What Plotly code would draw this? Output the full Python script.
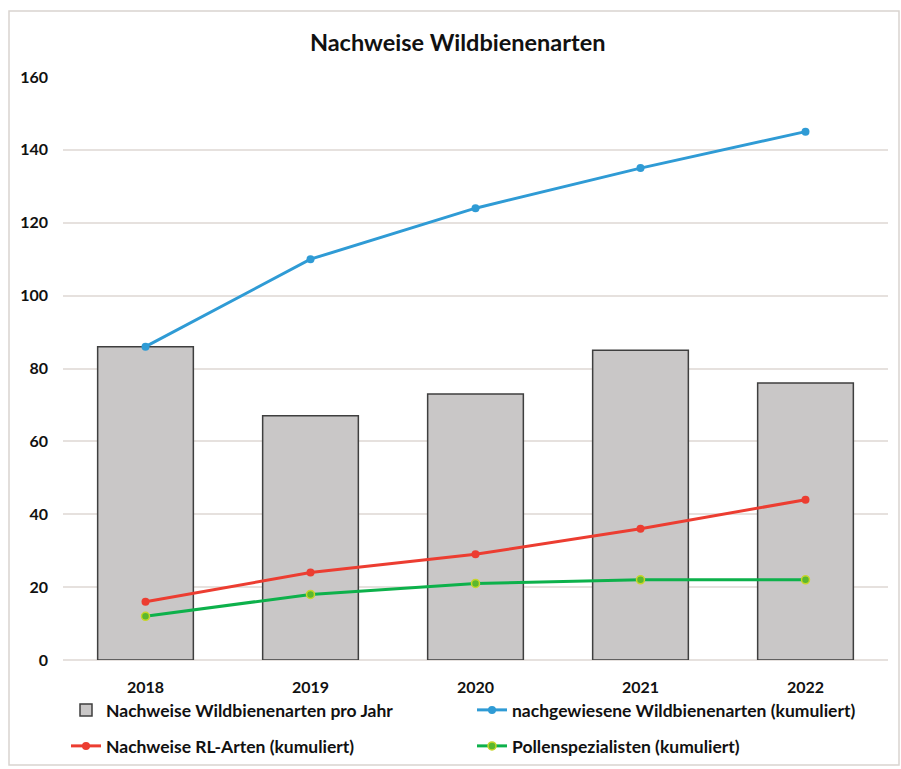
import plotly.graph_objects as go

years = ["2018", "2019", "2020", "2021", "2022"]
bars_pro_jahr = [86, 67, 73, 85, 76]
kumuliert = [86, 110, 124, 135, 145]
rl_arten = [16, 24, 29, 36, 44]
pollen = [12, 18, 21, 22, 22]

W, H = 901, 769
L, R, T, B = 63, 13, 77, 109
FONT = "Lato"

fig = go.Figure()
fig.add_trace(go.Bar(
    x=years, y=bars_pro_jahr, name="Nachweise Wildbienenarten pro Jahr",
    marker=dict(color="#c9c7c7", line=dict(color="#3f3f3f", width=1.5)),
    width=0.58, legend="legend", showlegend=True))
fig.add_trace(go.Scatter(
    x=years, y=kumuliert, name="nachgewiesene Wildbienenarten (kumuliert)",
    mode="lines+markers", line=dict(color="#2f9bd5", width=3),
    marker=dict(color="#2f9bd5", size=8), legend="legend2", showlegend=True))
fig.add_trace(go.Scatter(
    x=years, y=rl_arten, name="Nachweise RL-Arten (kumuliert)",
    mode="lines+markers", line=dict(color="#ec3d31", width=3),
    marker=dict(color="#ec3d31", size=8), legend="legend3", showlegend=True))
fig.add_trace(go.Scatter(
    x=years, y=pollen, name="Pollenspezialisten (kumuliert)",
    mode="lines+markers", line=dict(color="#0db14b", width=3),
    marker=dict(color="#5cb82e", size=8, line=dict(color="#c8d62a", width=1.5)),
    legend="legend4", showlegend=True))

pw = W - L - R
ph = H - T - B
def px2x(px):
    return (px - L) / pw
def py2y(py):
    return (H - B - py) / ph

leg_common = dict(font=dict(family=FONT, size=17.5, color="#111111", weight="bold"),
                  bgcolor="rgba(0,0,0,0)", xanchor="left", yanchor="middle",
                  xref="container", yref="container",
                  itemwidth=30, tracegroupgap=0)

fig.update_layout(
    width=W, height=H,
    showlegend=True,
    margin=dict(l=L, r=R, t=T, b=B, autoexpand=False),
    paper_bgcolor="white", plot_bgcolor="white",
    title=dict(text="<b>Nachweise Wildbienenarten</b>", x=0.508, xanchor="center",
               y=1 - 43 / H, yanchor="middle",
               font=dict(family=FONT, size=23.5, color="#111111")),
    bargap=0.42,
    xaxis=dict(showgrid=False, showline=False, ticks="",
               tickfont=dict(family=FONT, size=16, color="#111111", weight="bold"),
               ticklabelstandoff=16),
    yaxis=dict(range=[0, 160], dtick=20, showgrid=True, gridcolor="#e6e1de", gridwidth=1.5,
               zeroline=True, zerolinecolor="#e6e1de", zerolinewidth=1.5, showline=False,
               tickfont=dict(family=FONT, size=16, color="#111111", weight="bold"),
               ticklabelstandoff=14),
    legend=dict(x=66 / W, y=1 - 710 / H, **leg_common),
    legend2=dict(x=472 / W, y=1 - 710 / H, **leg_common),
    legend3=dict(x=66 / W, y=1 - 746 / H, **leg_common),
    legend4=dict(x=472 / W, y=1 - 746 / H, **leg_common),
    shapes=[dict(type="rect", xref="paper", yref="paper",
                 x0=px2x(9), x1=px2x(899), y0=py2y(765), y1=py2y(11),
                 line=dict(color="#d9d4d0", width=1.5), fillcolor="rgba(0,0,0,0)", layer="below")],
)

fig.write_html("out.html")
